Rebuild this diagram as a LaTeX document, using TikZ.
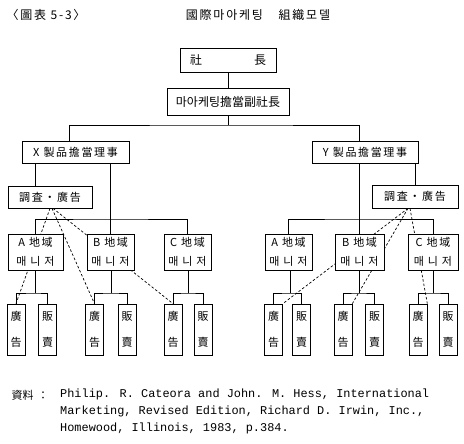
\documentclass[tikz,border=0pt]{standalone}
\usepackage{fontspec}
\usetikzlibrary{backgrounds}
\newfontfamily\krt{Noto Sans CJK KR}
\newfontfamily\kr[LetterSpace=15]{Noto Sans CJK KR}
\newfontfamily\krw[LetterSpace=35]{Noto Sans CJK KR}
\newfontfamily\src{Liberation Mono}

\begin{document}
\begin{tikzpicture}[x=1pt,y=-1pt,
  box/.style={draw, fill=white, line width=0.7pt, inner sep=0pt, font=\fontsize{11}{13}\kr},
  mgr/.style={box, minimum height=36pt, align=center, font=\fontsize{11}{19}\kr},
  unit/.style={box, minimum width=18pt, minimum height=51pt, align=center, font=\fontsize{11}{26}\krt},
  link/.style={line width=0.7pt},
  adv/.style={line width=0.7pt, dash pattern=on 2.5pt off 2pt}]
\useasboundingbox (0,0) rectangle (464,444);

\node (title) at (46,15) {\fontsize{12}{14}\kr 〈圖表 5-3〉};
\node (head) at (258,15) {\fontsize{12}{14}\kr 國際마아케팅　組織모델};

\node[box, minimum width=96pt, minimum height=24pt, font=\fontsize{12}{14}\krt] (pres) at (228,60) {社\hspace{52pt}長};
\node[box, minimum width=122pt, minimum height=27pt, font=\fontsize{12}{14}\krt] (vp) at (228,101.5) {마아케팅擔當副社長};
\node[box, minimum width=107pt, minimum height=22pt] (xd) at (75.5,152) {X 製品擔當理事};
\node[box, minimum width=106pt, minimum height=22pt] (yd) at (365,152) {Y 製品擔當理事};
\node[box, minimum width=84pt, minimum height=22pt] (xr) at (50,197) {調査・廣告};
\node[box, minimum width=86pt, minimum height=23pt] (yr) at (415,196.5) {調査・廣告};

\node[mgr, minimum width=55pt] (xa) at (35.5,252) {A 地域\\{\krw 매니저}};
\node[mgr, minimum width=47pt] (xb) at (110.5,252) {B 地域\\{\krw 매니저}};
\node[mgr, minimum width=47pt] (xc) at (187.5,252) {C 地域\\{\krw 매니저}};
\node[mgr, minimum width=47pt] (ya) at (288.5,252) {A 地域\\{\krw 매니저}};
\node[mgr, minimum width=49pt] (yb) at (359.5,252) {B 地域\\{\krw 매니저}};
\node[mgr, minimum width=50pt] (yc) at (433,252) {C 地域\\{\krw 매니저}};

\node[unit] (xa1) at (16,329.5) {廣\\告};
\node[unit] (xa2) at (47.5,329.5) {販\\賣};
\node[unit] (xb1) at (94.5,329.5) {廣\\告};
\node[unit] (xb2) at (127,329.5) {販\\賣};
\node[unit] (xc1) at (173,329.5) {廣\\告};
\node[unit] (xc2) at (203,329.5) {販\\賣};
\node[unit] (ya1) at (273.5,329.5) {廣\\告};
\node[unit] (ya2) at (301.5,329.5) {販\\賣};
\node[unit] (yb1) at (343,329.5) {廣\\告};
\node[unit] (yb2) at (374.5,329.5) {販\\賣};
\node[unit] (yc1) at (418,329.5) {廣\\告};
\node[unit] (yc2) at (448,329.5) {販\\賣};

\node[anchor=west, font=\fontsize{11}{13}\krt] (srclabel) at (8,395) {資料\hspace{4pt}：};
\node[anchor=north west, align=left, inner sep=0pt, font=\fontsize{11.9}{17}\src] (srctext) at (60,389) {Philip. R. Cateora and John. M. Hess, International\\Marketing, Revised Edition, Richard D. Irwin, Inc.,\\Homewood, Illinois, 1983, p.384.};

\begin{scope}[on background layer]
\coordinate (top) at (228,125);
\draw[link] (pres) -- (vp);
\draw[link] (vp) -- (top);
\draw[link] ([xshift=-6.5pt]xd.north) |- (top) -| ([xshift=-6pt]yd.north);
\draw[link] ([xshift=-15pt]xr.north) -- ([xshift=-15pt]xr.north |- xd.south);
\draw[link] (xb.north) -- (xb.north |- xd.south);
\coordinate (xm) at (110,219);
\draw[link] (xa.north) |- (xm) -| (xc.north);
\draw[link] (yb.north) -- (yb.north |- yd.south);
\draw[link] (yr.north) -- (yr.north |- yd.south);
\coordinate (ym) at (360,219);
\draw[link] (ya.north) |- (ym) -| (yc.north);

\coordinate (jxa) at (35,293);
\coordinate (jxb) at (111,293);
\coordinate (jxc) at (188,293);
\coordinate (jya) at (290,293);
\coordinate (jyb) at (359,293);
\coordinate (jyc) at (433,293);
\draw[link] (jxa) -- (jxa |- xa.south);
\draw[link] (jxb) -- (jxb |- xb.south);
\draw[link] (jxc) -- (jxc |- xc.south);
\draw[link] (jya) -- (jya |- ya.south);
\draw[link] (jyb) -- (jyb |- yb.south);
\draw[link] (jyc) -- (jyc |- yc.south);
\draw[link] (xa1.north) |- (jxa) -| (xa2.north);
\draw[link] (xb1.north) |- (jxb) -| (xb2.north);
\draw[link] (xc1.north) |- (jxc) -| (xc2.north);
\draw[link] (ya1.north) |- (jya) -| (ya2.north);
\draw[link] (yb1.north) |- (jyb) -| (yb2.north);
\draw[link] (yc1.north) |- (jyc) -| (yc2.north);

\draw[adv] (xr.south) -- (xa1.north);
\draw[adv] ([xshift=2pt]xr.south) -- (xb1.north);
\draw[adv] ([xshift=3pt]xr.south) -- (xc1.north);
\draw[adv] ([xshift=-7pt]yr.south) -- (ya1.north east);
\draw[adv] ([xshift=-7pt]yr.south) -- (yb1.north east);
\draw[adv] ([xshift=-5pt]yr.south) -- (yc1.north east);
\end{scope}
\end{tikzpicture}
\end{document}
